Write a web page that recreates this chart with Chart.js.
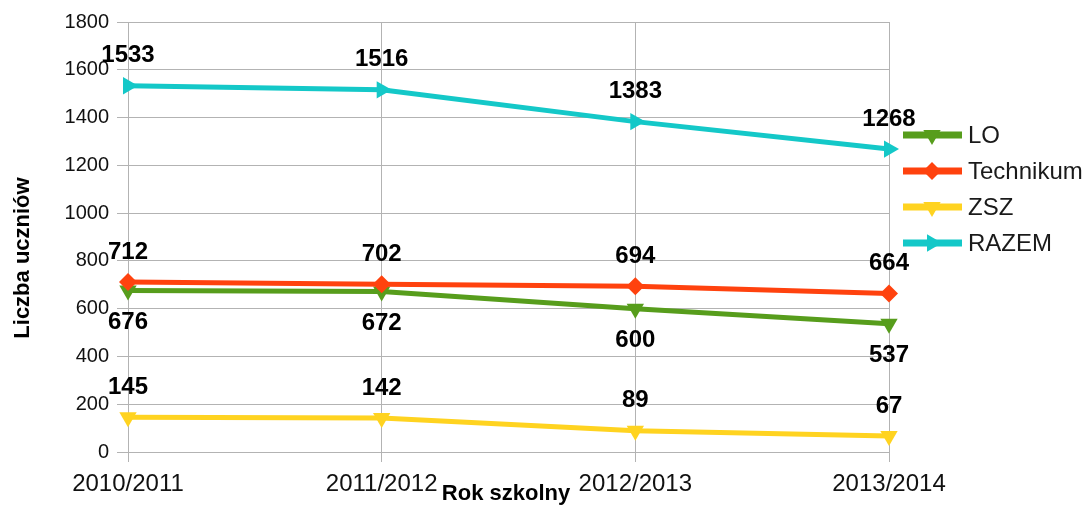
<!DOCTYPE html>
<html>
<head>
<meta charset="utf-8">
<script src="https://cdn.jsdelivr.net/npm/chart.js@4/dist/chart.umd.min.js"></script>
<style>
  html, body { margin: 0; padding: 0; background: #fff; }
</style>
</head>
<body>
<canvas id="myChart" width="1092" height="506"></canvas>
<script>
const years = ['2010/2011', '2011/2012', '2012/2013', '2013/2014'];
const lo = [676, 672, 600, 537];
const technikum = [712, 702, 694, 664];
const zsz = [145, 142, 89, 67];
const razem = [1533, 1516, 1383, 1268];
const seriesNames = ['LO', 'Technikum', 'ZSZ', 'RAZEM'];

const FONT = '"Liberation Sans", Arial, sans-serif';
const gridColor = '#b3b3b3';

// value labels above/below each point
const valueLabels = {
  id: 'valueLabels',
  afterDatasetsDraw(chart) {
    const ctx = chart.ctx;
    ctx.save();
    ctx.font = 'bold 24px ' + FONT;
    ctx.fillStyle = '#000';
    ctx.textAlign = 'center';
    ctx.textBaseline = 'middle';
    chart.data.datasets.forEach((ds, i) => {
      const meta = chart.getDatasetMeta(i);
      meta.data.forEach((pt, j) => {
        const dy = ds.labelBelow ? 32 : -30;
        ctx.fillText(String(ds.data[j]), pt.x, pt.y + dy);
      });
    });
    ctx.restore();
  },
};

// axis titles + legend (line with marker, like the office chart)
const extras = {
  id: 'extras',
  afterDraw(chart) {
    const ctx = chart.ctx;
    const area = chart.chartArea;
    ctx.save();
    ctx.fillStyle = '#000';
    ctx.font = 'bold 22px ' + FONT;
    ctx.textAlign = 'center';
    ctx.textBaseline = 'middle';
    ctx.fillText('Rok szkolny', 506, 494);
    ctx.save();
    ctx.translate(23, 258);
    ctx.rotate(-Math.PI / 2);
    ctx.fillText('Liczba uczniów', 0, 0);
    ctx.restore();

    const lx = area.right + 14;
    chart.data.datasets.forEach((ds, i) => {
      const y = 135 + i * 36;
      ctx.strokeStyle = ds.borderColor;
      ctx.lineWidth = 7;
      ctx.beginPath();
      ctx.moveTo(lx, y);
      ctx.lineTo(lx + 59, y);
      ctx.stroke();
      ctx.fillStyle = ds.borderColor;
      Chart.helpers.drawPoint(ctx, {
        pointStyle: ds.pointStyle,
        rotation: ds.pointRotation,
        radius: ds.pointRadius,
        borderWidth: 0,
      }, lx + 29, y);
      ctx.fillStyle = '#1a1a1a';
      ctx.font = '24px ' + FONT;
      ctx.textAlign = 'left';
      ctx.fillText(ds.label, lx + 65, y + 1);
    });
    ctx.restore();
  },
};

function series(label, data, color, style, rotation, radius, order, labelBelow) {
  return {
    label: label,
    data: data,
    borderColor: color,
    backgroundColor: color,
    borderWidth: 5,
    pointStyle: style,
    pointRotation: rotation,
    pointRadius: radius,
    pointHoverRadius: radius,
    pointBorderWidth: 0,
    tension: 0,
    order: order,
    labelBelow: labelBelow,
  };
}

const ctx = document.getElementById('myChart').getContext('2d');
const chart = new Chart(ctx, {
  type: 'line',
  data: {
    labels: years,
    datasets: [
      series(seriesNames[0], lo, '#579d1c', 'triangle', 180, 10, 4, true),
      series(seriesNames[1], technikum, '#ff420e', 'rectRot', 0, 9, 3, false),
      series(seriesNames[2], zsz, '#ffd320', 'triangle', 180, 10, 2, false),
      series(seriesNames[3], razem, '#14c8c8', 'triangle', 90, 10, 1, false),
    ],
  },
  plugins: [valueLabels, extras],
  options: {
    responsive: false,
    animation: false,
    layout: {
      padding: { top: 22, right: 203, bottom: 0, left: 0 },
    },
    plugins: {
      legend: { display: false },
      tooltip: { enabled: false },
    },
    scales: {
      x: {
        offset: false,
        grid: { color: gridColor, lineWidth: 1, tickLength: 10 },
        border: { color: gridColor },
        ticks: {
          font: { family: FONT, size: 24 },
          color: '#111',
          padding: 8,
          maxRotation: 0,
        },
        afterFit(scale) { scale.height = 54; },
      },
      y: {
        min: 0,
        max: 1800,
        grid: { color: gridColor, lineWidth: 1, tickLength: 11 },
        border: { color: gridColor },
        ticks: {
          stepSize: 200,
          font: { family: FONT, size: 20 },
          color: '#111',
          padding: 8,
          callback: (v) => String(v),
        },
        afterFit(scale) { scale.width = 128; },
      },
    },
  },
});
</script>
</body>
</html>
